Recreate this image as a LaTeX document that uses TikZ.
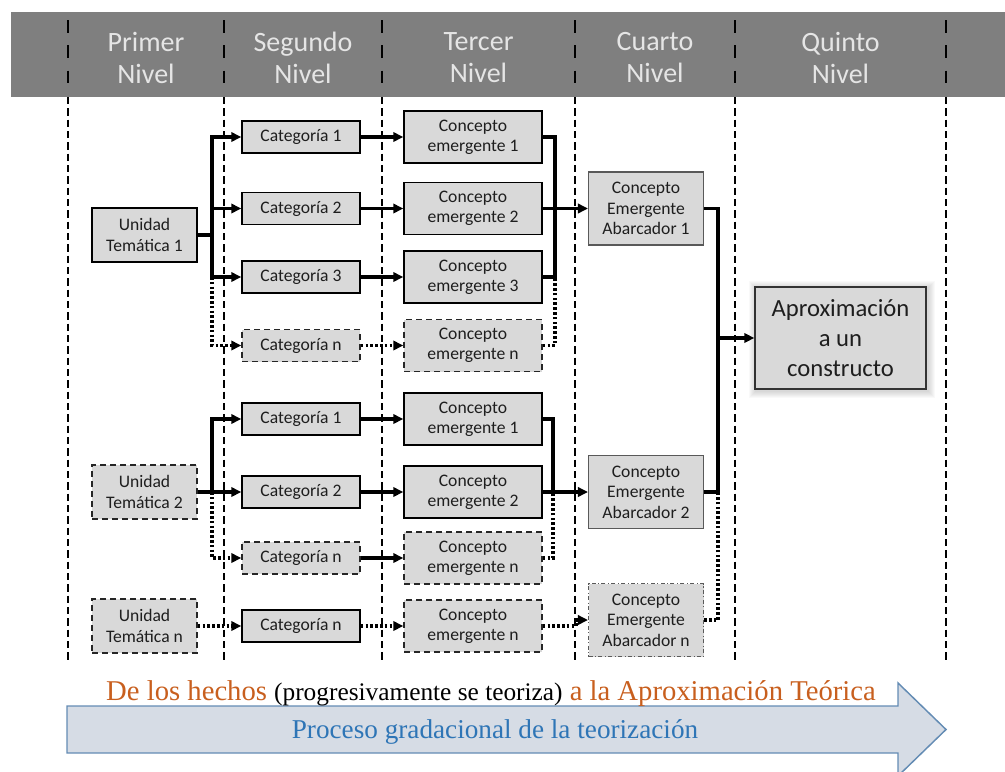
\documentclass[tikz,border=0pt]{standalone}
\usepackage{fontspec}
\setmainfont{Liberation Serif}
\newfontfamily\carl{Carlito}
\usetikzlibrary{arrows.meta,calc}
\definecolor{boxfill}{RGB}{217,217,217}
\definecolor{hdrgray}{RGB}{127,127,127}
\definecolor{txtgray}{RGB}{30,30,30}
\definecolor{orng}{RGB}{200,95,30}
\definecolor{bluetxt}{RGB}{46,117,182}
\definecolor{arrfill}{RGB}{214,220,229}
\definecolor{arrline}{RGB}{100,140,180}
\pgfdeclarelayer{bg}
\pgfsetlayers{bg,main}
\tikzset{
 bx/.style={inner sep=0pt, align=center, font=\carl\fontsize{13.2}{15.3}\selectfont, text=txtgray, fill=boxfill},
 cat/.style={bx, draw=black, line width=1.1pt, minimum width=88.5pt, minimum height=24pt},
 cpt/.style={bx, draw=black, line width=1.1pt, minimum width=103.5pt, minimum height=39pt},
 ut/.style={bx, draw=black, line width=1.1pt, minimum width=78.75pt, minimum height=40.5pt},
 abc/.style={bx, draw=black!65, line width=0.8pt, minimum width=86.25pt, minimum height=54.75pt},
 dsh/.style={dash pattern=on 4.5pt off 3pt, draw=black!85},
 dshdot/.style={dash pattern=on 3pt off 1.8pt on 0.8pt off 1.8pt},
 cline/.style={draw=black, line width=2.3pt},
 carrow/.style={cline, -{Triangle[length=7.5pt,width=7pt]}},
 cdotl/.style={cline, dash pattern=on 2pt off 1.6pt},
 cdotarr/.style={carrow, dash pattern=on 2pt off 1.6pt},
 col/.style={line width=0.8pt, dash pattern=on 5.5pt off 3pt},
 hcol/.style={line width=2.2pt, dash pattern=on 9.5pt off 9.5pt},
 hdr/.style={text=white!90!black, font=\carl\fontsize{21}{24}\selectfont, align=center, inner sep=0pt},
 apxs/.style={bx, draw=black!80, line width=1pt, minimum width=128.25pt, minimum height=76.5pt, font=\carl\fontsize{18.5}{22.5}\selectfont},
}
\begin{document}
\begin{tikzpicture}[x=0.75pt,y=-0.75pt]
\useasboundingbox (0,0) rectangle (1005,771);
% header band
\fill[hdrgray] (11,12) rectangle (1005,97);
\foreach \x in {68,224,382,575,735,946} {
  \draw[hcol] (\x,20) -- (\x,86);
  \draw[col] (\x,97) -- (\x,661);
}
\node[hdr] (h1) at (146,58) {Primer\\Nivel};
\node[hdr] (h2) at (303,58) {Segundo\\Nivel};
\node[hdr] (h3) at (478.5,58) {Tercer\\Nivel};
\node[hdr] (h4) at (655,58) {Cuarto\\Nivel};
\node[hdr] (h5) at (840.5,58) {Quinto\\Nivel};

% first level
\node[ut] (ut1) at (144.5,235) {Unidad\\Temática 1};
\node[ut,dsh] (ut2) at (144.5,492) {Unidad\\Temática 2};
\node[ut,dsh] (utn) at (144.5,626) {Unidad\\Temática n};
% second level
\node[cat] (c11) at (301,137) {Categoría 1};
\node[cat] (c12) at (301,208.5) {Categoría 2};
\node[cat] (c13) at (301,277) {Categoría 3};
\node[cat,dsh] (c1n) at (301,345.5) {Categoría n};
\node[cat] (c21) at (301,419) {Categoría 1};
\node[cat] (c22) at (301,492) {Categoría 2};
\node[cat,dsh] (c2n) at (301,558) {Categoría n};
\node[cat] (c3n) at (301,626) {Categoría n};
% third level
\node[cpt] (e11) at (473,137) {Concepto\\emergente 1};
\node[cpt] (e12) at (473,208.5) {Concepto\\emergente 2};
\node[cpt] (e13) at (473,277) {Concepto\\emergente 3};
\node[cpt,dsh] (e1n) at (473,345.5) {Concepto\\emergente n};
\node[cpt] (e21) at (473,419) {Concepto\\emergente 1};
\node[cpt] (e22) at (473,492) {Concepto\\emergente 2};
\node[cpt,dsh] (e2n) at (473,558) {Concepto\\emergente n};
\node[cpt,dsh] (e3n) at (473,626) {Concepto\\emergente n};
% fourth level
\node[abc] (a1) at (646,208.5) {Concepto\\Emergente\\Abarcador 1};
\node[abc] (a2) at (646,492) {Concepto\\Emergente\\Abarcador 2};
\node[abc,dshdot] (an) at (646,620) {Concepto\\Emergente\\Abarcador n};
% fifth level
\node[apxs] (apx) at (840.5,338) {Aproximación\\a un\\constructo};
\begin{pgfonlayer}{bg}
\foreach \i in {1,...,7} {
  \fill[black,opacity=0.025] ($(apx.north west)+(-\i+1.5,-\i+1.5)$) rectangle ($(apx.south east)+(\i+1.5,\i+1.5)$);
}
\end{pgfonlayer}

% junction coordinates
\coordinate (bx) at (212,235);
\coordinate (mx1) at (555,208.5);
\coordinate (mx2) at (553,492);
\coordinate (tx) at (718,338);
\coordinate (sx) at (576,626);

% upper group connectors
\draw[cline] (ut1.east) -- (bx);
\draw[carrow] (bx) |- (c11.west);
\draw[carrow] (bx) |- (c12.west);
\draw[carrow] (bx) |- (c13.west);
\draw[cdotarr] (bx |- c13.west) |- (c1n.west);
\draw[carrow] (c11.east) -- (e11.west);
\draw[carrow] (c12.east) -- (e12.west);
\draw[carrow] (c13.east) -- (e13.west);
\draw[cdotarr] (c1n.east) -- (e1n.west);
\draw[cline] (e11.east) -| (mx1);
\draw[cline] (e13.east) -| (mx1);
\draw[carrow] (e12.east) -- (a1.west);
\draw[cdotl] (e1n.east) -| (mx1 |- e13.east);
\draw[cline] (a1.east) -| (tx);
\draw[cline] (a2.east) -| (tx);
\draw[carrow] (tx) -- (apx.west);
\draw[cdotl] (an.east) -| (tx |- a2.east);

% lower group connectors
\draw[carrow] (ut2.east) -- (c22.west);
\draw[carrow] (bx |- ut2.east) |- (c21.west);
\draw[cdotarr] (bx |- ut2.east) |- (c2n.west);
\draw[cdotarr] (utn.east) -- (c3n.west);
\draw[carrow] (c21.east) -- (e21.west);
\draw[carrow] (c22.east) -- (e22.west);
\draw[carrow] (c2n.east) -- (e2n.west);
\draw[cdotarr] (c3n.east) -- (e3n.west);
\draw[cline] (e21.east) -| (mx2);
\draw[carrow] (e22.east) -- (a2.west);
\draw[cdotl] (e2n.east) -| (mx2);
\draw[cdotarr] (e3n.east) -- (sx) |- (an.west);

% bottom arrow
\begin{scope}
\clip (0,0) rectangle (1005,771);
\draw[fill=arrfill, draw=arrline, line width=1.1pt, line join=miter]
  (67,706) -- (898,706) -- (898,683) -- (946,729.5) -- (898,776) -- (898,753) -- (67,753) -- cycle;
\end{scope}
\node[anchor=base, inner sep=0pt, text=orng, font=\fontsize{21.5}{26}\selectfont] (t1) at (491,700)
  {De los hechos {\color{black}\fontsize{19}{23}\selectfont(progresivamente se teoriza)} a la Aproximación Teórica};
\node[anchor=base, inner sep=0pt, text=bluetxt, font=\fontsize{20.4}{25}\selectfont] (t2) at (495,738)
  {Proceso gradacional de la teorización};
\end{tikzpicture}
\end{document}
